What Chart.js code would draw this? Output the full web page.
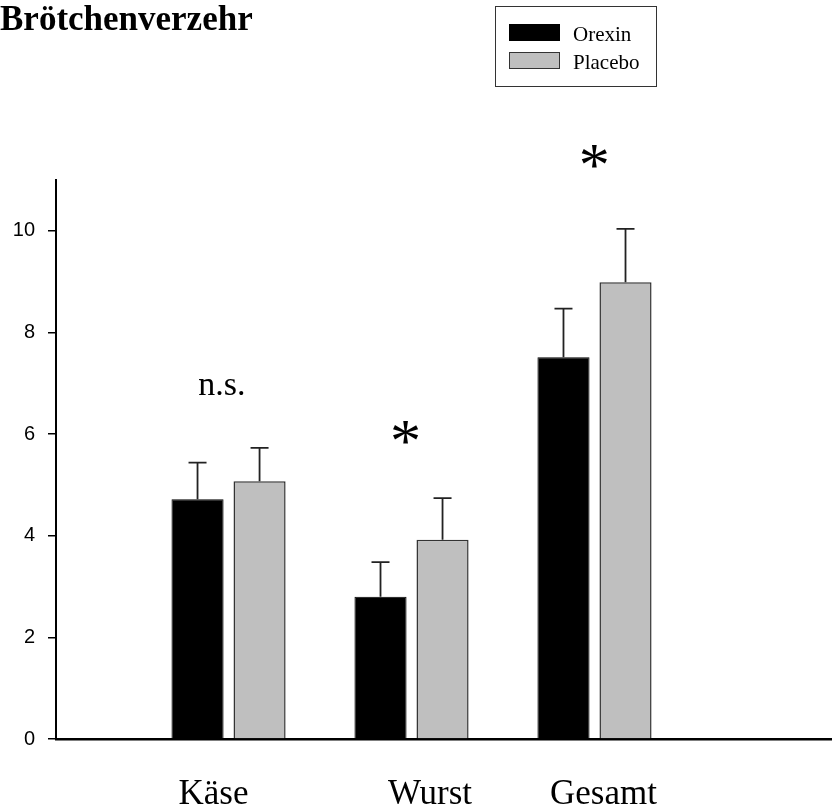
<!DOCTYPE html>
<html>
<head>
<meta charset="utf-8">
<script src="https://cdn.jsdelivr.net/npm/chart.js@4/dist/chart.umd.min.js"></script>
<style>
  html, body { margin: 0; padding: 0; background: #fff; }
  canvas { display: block; }
</style>
</head>
<body>
<canvas id="chart" width="832" height="807"></canvas>
<script>
// Rolls eaten per condition (mean and SEM)
const categories = ['Käse', 'Wurst', 'Gesamt'];
const orexinMean = [4.72, 2.80, 7.51];
const orexinSem = [0.72, 0.68, 0.96];
const placeboMean = [5.07, 3.92, 8.99];
const placeboSem = [0.66, 0.82, 1.05];
const significance = ['n.s.', '*', '*'];
const yTicks = [0, 2, 4, 6, 8, 10];

// Layout of the group axis (axis units)
const groupPos = [1, 2, 3];
const labelPos = [0.918, 2.101, 3.049];
const xMin = 0.057, xMax = 4.298;
// Where the significance marks sit: [x, y] in axis units
const markPos = [[0.964, 6.92], [1.967, 6.03], [2.999, 11.47]];

const serif = '"Liberation Serif", "Times New Roman", serif';
const sans = '"Liberation Sans", Arial, sans-serif';

const errorBars = {
  id: 'errorBars',
  afterDatasetsDraw(chart) {
    const { ctx } = chart;
    const y = chart.scales.y;
    chart.data.datasets.forEach((ds, di) => {
      const meta = chart.getDatasetMeta(di);
      meta.data.forEach((bar, i) => {
        const top = y.getPixelForValue(ds.data[i].y + ds.sem[i]);
        ctx.save();
        ctx.strokeStyle = '#222';
        ctx.lineWidth = 1.8;
        ctx.beginPath();
        ctx.moveTo(bar.x, bar.y);
        ctx.lineTo(bar.x, top);
        ctx.moveTo(bar.x - 9, top);
        ctx.lineTo(bar.x + 9, top);
        ctx.stroke();
        ctx.restore();
      });
    });
  }
};

const decorations = {
  id: 'decorations',
  afterDraw(chart) {
    const { ctx } = chart;
    const x = chart.scales.x, y = chart.scales.y;
    ctx.save();
    ctx.fillStyle = '#000';

    // Title
    ctx.font = 'bold 35px ' + serif;
    ctx.textAlign = 'left';
    ctx.textBaseline = 'alphabetic';
    ctx.fillText('Brötchenverzehr', 0, 30);

    // Significance marks, centred on their positions
    significance.forEach((txt, i) => {
      let size = 34;
      if (txt === '*') {
        // size the asterisk so that its glyph is about 23px tall
        ctx.font = '100px ' + serif;
        const t = ctx.measureText('*');
        size = 100 * 23 / (t.actualBoundingBoxAscent + t.actualBoundingBoxDescent);
      }
      ctx.font = size + 'px ' + serif;
      const m = ctx.measureText(txt);
      const cx = x.getPixelForValue(markPos[i][0]);
      const cy = y.getPixelForValue(markPos[i][1]);
      ctx.textAlign = 'center';
      ctx.fillText(txt, cx, cy + (m.actualBoundingBoxAscent - m.actualBoundingBoxDescent) / 2);
    });

    // Legend box
    ctx.strokeStyle = '#333';
    ctx.lineWidth = 1;
    ctx.strokeRect(495.5, 6.5, 161, 80);
    const rows = [24, 52];
    ctx.font = '21px ' + serif;
    ctx.textAlign = 'left';
    chart.data.datasets.forEach((ds, i) => {
      ctx.fillStyle = ds.backgroundColor;
      ctx.fillRect(509, rows[i], 51, 17);
      ctx.strokeStyle = ds.borderColor;
      ctx.lineWidth = 1;
      ctx.strokeRect(509.5, rows[i] + 0.5, 50, 16);
      ctx.fillStyle = '#000';
      ctx.fillText(ds.label, 573, rows[i] + 17);
    });
    ctx.restore();
  }
};

new Chart(document.getElementById('chart'), {
  type: 'bar',
  data: {
    datasets: [
      {
        label: 'Orexin',
        data: groupPos.map((g, i) => ({ x: g, y: orexinMean[i] })),
        sem: orexinSem,
        backgroundColor: '#000000',
        borderColor: '#000000',
        borderWidth: 1
      },
      {
        label: 'Placebo',
        data: groupPos.map((g, i) => ({ x: g, y: placeboMean[i] })),
        sem: placeboSem,
        backgroundColor: '#bfbfbf',
        borderColor: '#333333',
        borderWidth: 1.5
      }
    ]
  },
  options: {
    responsive: false,
    animation: false,
    layout: { padding: { top: 180, left: 0, right: 0, bottom: 0 } },
    datasets: { bar: { categoryPercentage: 0.678, barPercentage: 0.84 } },
    plugins: {
      legend: { display: false },
      title: { display: false },
      tooltip: { enabled: false }
    },
    scales: {
      x: {
        type: 'linear',
        min: xMin, max: xMax,
        offset: false,
        bounds: 'data',
        position: 'bottom',
        weight: 0,
        grid: { display: false, offset: false },
        border: { display: true, color: '#000', width: 2.5 },
        ticks: { display: false },
        afterBuildTicks: s => { s.ticks = groupPos.map(v => ({ value: v })); }
      },
      xLabels: {
        type: 'linear',
        axis: 'x',
        min: xMin, max: xMax,
        offset: false,
        bounds: 'data',
        position: 'bottom',
        weight: 1,
        grid: { display: false, offset: false },
        border: { display: false },
        ticks: {
          autoSkip: false,
          maxRotation: 0,
          padding: 19,
          color: '#000',
          font: { family: serif, size: 35 },
          callback: (v, i) => categories[i]
        },
        afterBuildTicks: s => { s.ticks = labelPos.map(v => ({ value: v })); },
        afterFit: s => { s.height = 60; }
      },
      y: {
        min: 0, max: 11,
        border: { display: true, color: '#000', width: 2 },
        grid: { drawOnChartArea: false, drawTicks: true, tickLength: 8, color: '#000', lineWidth: 1.5 },
        ticks: { color: '#000', padding: 13, font: { family: sans, size: 20 } },
        afterBuildTicks: s => { s.ticks = yTicks.map(v => ({ value: v })); },
        afterFit: s => { s.width = 56; }
      }
    }
  },
  plugins: [errorBars, decorations]
});
</script>
</body>
</html>
